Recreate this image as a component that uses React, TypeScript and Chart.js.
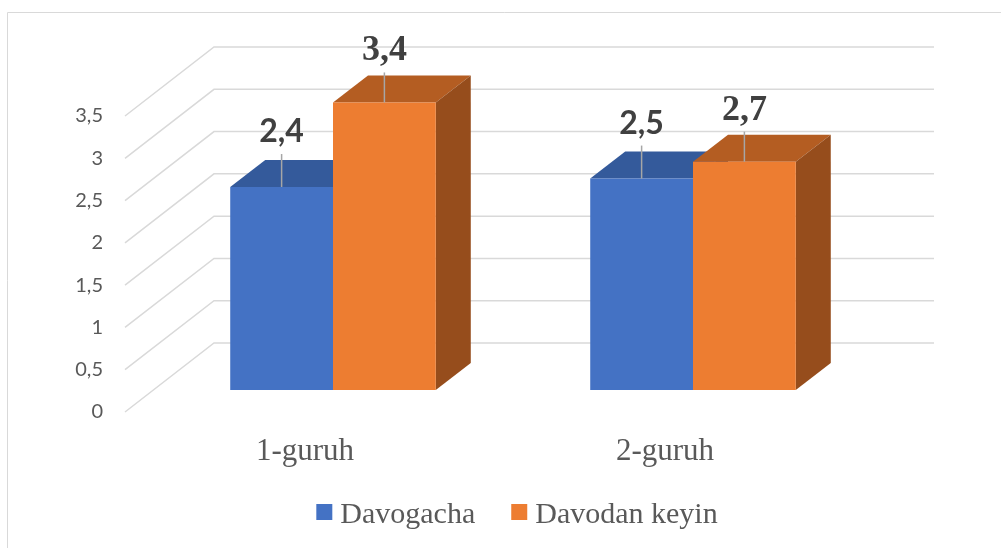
import React, { useEffect, useRef } from "react";
import { Chart, registerables } from "chart.js";

Chart.register(...registerables);

const categories = ["1-guruh", "2-guruh"];
const seriesNames = ["Davogacha", "Davodan keyin"];
const davogacha = [2.4, 2.5];
const davodanKeyin = [3.4, 2.7];
const yTicks = [0, 0.5, 1, 1.5, 2, 2.5, 3, 3.5];
const tickLabels = ["0", "0,5", "1", "1,5", "2", "2,5", "3", "3,5"];

const frontColors = ["#4472C4", "#ED7D31"];
const topColors = ["#345A9B", "#B45D22"];
const sideColors = ["#2C4D86", "#964D1C"];
const labelFonts = ["bold 32px Lato", "bold 36px 'Liberation Serif'"];
const labelGaps = [18, 15];

const FRONT = { dx: -28, dy: 22 };
const BACK = { dx: 61, dy: -47 };
const DEPTH = { dx: 35, dy: -27 };
const GRID = "#D9D9D9";
const TEXT = "#595959";

const fmt = (v: number) => String(v).replace(".", ",");

const threeD = {
  id: "threeD",
  beforeDatasetsDraw(chart: any) {
    const { ctx, chartArea: a } = chart;
    const y = chart.scales.y;
    ctx.save();
    ctx.strokeStyle = GRID;
    ctx.lineWidth = 1;
    ctx.beginPath();
    ctx.moveTo(7.5, chart.height);
    ctx.lineTo(7.5, 12.5);
    ctx.lineTo(chart.width, 12.5);
    ctx.stroke();
    ctx.lineWidth = 1.5;
    yTicks.forEach((v) => {
      const yb = y.getPixelForValue(v);
      ctx.beginPath();
      ctx.moveTo(a.left + FRONT.dx, yb + FRONT.dy);
      ctx.lineTo(a.left + BACK.dx, yb + BACK.dy);
      ctx.lineTo(a.right + BACK.dx, yb + BACK.dy);
      ctx.stroke();
    });
    chart.data.datasets.forEach((_: any, i: number) => {
      const meta = chart.getDatasetMeta(i);
      meta.data.forEach((el: any) => {
        const x0 = el.x - el.width / 2;
        const x1 = el.x + el.width / 2;
        const yt = el.y;
        const yb = el.base;
        ctx.fillStyle = topColors[i];
        ctx.beginPath();
        ctx.moveTo(x0, yt);
        ctx.lineTo(x1, yt);
        ctx.lineTo(x1 + DEPTH.dx, yt + DEPTH.dy);
        ctx.lineTo(x0 + DEPTH.dx, yt + DEPTH.dy);
        ctx.closePath();
        ctx.fill();
        ctx.fillStyle = sideColors[i];
        ctx.beginPath();
        ctx.moveTo(x1, yt);
        ctx.lineTo(x1 + DEPTH.dx, yt + DEPTH.dy);
        ctx.lineTo(x1 + DEPTH.dx, yb + DEPTH.dy);
        ctx.lineTo(x1, yb);
        ctx.closePath();
        ctx.fill();
      });
    });
    ctx.restore();
  },
  afterDatasetsDraw(chart: any) {
    const { ctx, chartArea: a } = chart;
    const y = chart.scales.y;
    const x = chart.scales.x;
    ctx.save();
    ctx.fillStyle = TEXT;
    ctx.font = "20px Lato";
    ctx.textAlign = "right";
    ctx.textBaseline = "middle";
    yTicks.forEach((v, k) => {
      const yb = y.getPixelForValue(v);
      ctx.fillText(tickLabels[k], a.left + FRONT.dx - 22, yb + FRONT.dy);
    });
    ctx.font = "31px 'Liberation Serif'";
    ctx.textAlign = "center";
    ctx.textBaseline = "alphabetic";
    categories.forEach((c, k) => {
      ctx.fillText(c, x.getPixelForValue(k) + FRONT.dx, a.bottom + 70);
    });
    chart.data.datasets.forEach((ds: any, i: number) => {
      const meta = chart.getDatasetMeta(i);
      meta.data.forEach((el: any, k: number) => {
        const base = el.y + DEPTH.dy - labelGaps[i];
        ctx.strokeStyle = "#A6A6A6";
        ctx.lineWidth = 1.5;
        ctx.beginPath();
        ctx.moveTo(el.x, base + 12);
        ctx.lineTo(el.x, el.y);
        ctx.stroke();
        ctx.fillStyle = "#404040";
        ctx.font = labelFonts[i];
        ctx.textAlign = "center";
        ctx.textBaseline = "alphabetic";
        ctx.fillText(fmt(ds.data[k]), el.x, base);
      });
    });
    ctx.font = "30px 'Liberation Serif'";
    ctx.textAlign = "left";
    const sq = 16;
    const gap = 8;
    const itemGap = 36;
    const widths = seriesNames.map((n) => ctx.measureText(n).width);
    const total = widths.reduce((s, w) => s + sq + gap + w, 0) + itemGap * (seriesNames.length - 1);
    let lx = 517 - total / 2;
    const ly = a.bottom + 133;
    seriesNames.forEach((n, i) => {
      ctx.fillStyle = frontColors[i];
      ctx.fillRect(lx, ly - 19, sq, sq);
      ctx.fillStyle = TEXT;
      ctx.fillText(n, lx + sq + gap, ly);
      lx += sq + gap + widths[i] + itemGap;
    });
    ctx.restore();
  },
};

export default function App() {
  const ref = useRef<HTMLCanvasElement | null>(null);
  useEffect(() => {
    if (!ref.current) return;
    const chart = new Chart(ref.current, {
      type: "bar",
      data: {
        labels: categories,
        datasets: [
          { label: seriesNames[0], data: davogacha, backgroundColor: frontColors[0] },
          { label: seriesNames[1], data: davodanKeyin, backgroundColor: frontColors[1] },
        ],
      },
      options: {
        responsive: false,
        animation: false,
        devicePixelRatio: 1,
        layout: { padding: { left: 153, right: 128, top: 94, bottom: 158 } },
        datasets: { bar: { categoryPercentage: 0.571, barPercentage: 1, borderWidth: 0 } },
        scales: {
          x: { display: false },
          y: { display: false, min: 0, max: 3.5 },
        },
        plugins: { legend: { display: false }, tooltip: { enabled: false } },
      },
      plugins: [threeD],
    });
    return () => chart.destroy();
  }, []);
  return (
    <div style={{ position: "fixed", left: 0, top: 0, width: 1001, height: 548, background: "#fff" }}>
      <canvas ref={ref} width={1001} height={548} />
    </div>
  );
}
